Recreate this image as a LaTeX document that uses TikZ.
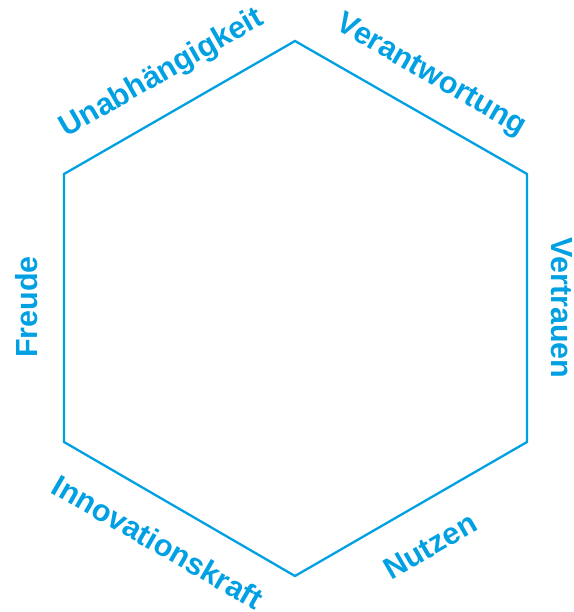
\documentclass[tikz,border=0pt]{standalone}
\usepackage{fontspec}
\setmainfont{Liberation Sans}
\definecolor{hexblue}{RGB}{0,160,227}
\tikzset{
  hexline/.style={draw=hexblue, line width=2.3pt, line join=miter},
  lbl/.style={text=hexblue, font=\fontsize{30.5}{36}\selectfont\bfseries, inner sep=0pt}
}
\begin{document}
\begin{tikzpicture}[x=1pt,y=-1pt]
\useasboundingbox (0,0) rectangle (573,612);
\coordinate (t) at (295,41);
\coordinate (ur) at (527,174);
\coordinate (lr) at (527,442);
\coordinate (b) at (295,576);
\coordinate (ll) at (64,442);
\coordinate (ul) at (64,174);
\draw[hexline] (t) -- (ur) -- (lr) -- (b) -- (ll) -- (ul) -- cycle;
\node[lbl, rotate=30] (unab) at (162,74) {Unabhängigkeit};
\node[lbl, rotate=-30] (veran) at (431,76) {Verantwortung};
\node[lbl, rotate=-90] (vertr) at (562,308) {Vertrauen};
\node[lbl, rotate=30] (nutz) at (430,546) {Nutzen};
\node[lbl, rotate=-30] (innov) at (158,542) {Innovationskraft};
\node[lbl, rotate=90] (freu) at (27,307) {Freude};
\end{tikzpicture}
\end{document}
